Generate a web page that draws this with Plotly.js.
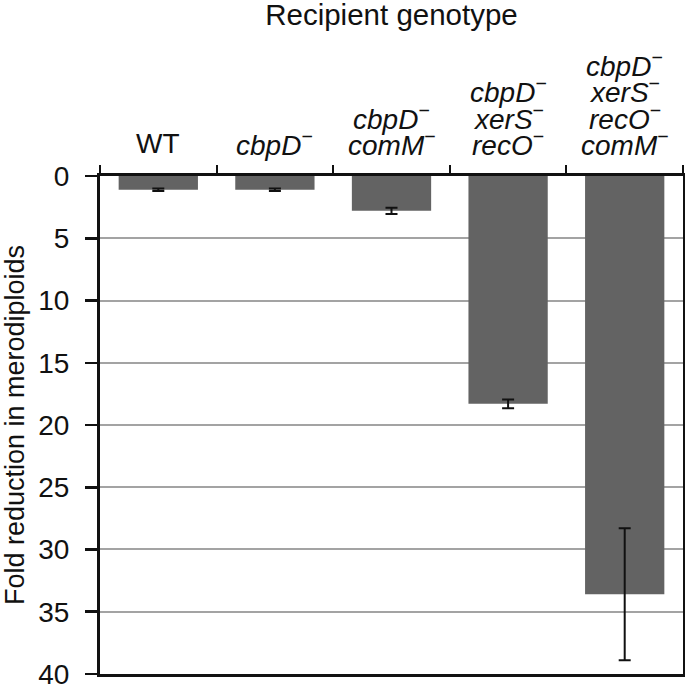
<!DOCTYPE html>
<html><head><meta charset="utf-8">
<script src="https://cdn.plot.ly/plotly-3.0.1.min.js"></script>
<style>body{margin:0;padding:0;background:#fff}#chart{width:685px;height:684px}</style>
</head><body><div id="chart"></div>
<script>
var categories = ["WT", "cbpD", "cbpD comM", "cbpD xerS recO", "cbpD xerS recO comM"];
// label lines for each category, top to bottom
var labelLines = [
  ["WT"],
  ["<i>cbpD</i><sup>−</sup>"],
  ["<i>cbpD</i><sup>−</sup>", "<i>comM</i><sup>−</sup>"],
  ["<i>cbpD</i><sup>−</sup>", "<i>xerS</i><sup>−</sup>", "<i>recO</i><sup>−</sup>"],
  ["<i>cbpD</i><sup>−</sup>", "<i>xerS</i><sup>−</sup>", "<i>recO</i><sup>−</sup>", "<i>comM</i><sup>−</sup>"]
];
var foldReduction = [1.1, 1.1, 2.8, 18.3, 33.6];
var errors = [0.1, 0.1, 0.25, 0.35, 5.3];
var yTicks = [0, 5, 10, 15, 20, 25, 30, 35, 40];

var font = "Liberation Sans, Arial, Helvetica, sans-serif";
var FS = 28;
var trace = {
  type: "bar", x: categories, y: foldReduction, base: 0,
  marker: {color: "#636363"}, width: 0.68,
  error_y: {type: "data", array: errors, visible: true, color: "#111", thickness: 2, width: 6},
  hoverinfo: "none"
};

var annotations = [];
for (var c = 0; c < categories.length; c++) {
  var lines = labelLines[c];
  for (var i = 0; i < lines.length; i++) {
    var fromBottom = lines.length - 1 - i;
    annotations.push({
      xref: "x", yref: "paper", x: categories[c], y: 1,
      text: lines[i], showarrow: false, xanchor: "center", yanchor: "middle",
      yshift: 33 + fromBottom * 26.5,
      font: {family: font, size: FS, color: "#111"}
    });
  }
}

var layout = {
  width: 685, height: 684,
  margin: {l: 100, r: 2, t: 176, b: 10},
  paper_bgcolor: "#fff", plot_bgcolor: "#fff",
  showlegend: false,
  font: {family: font, color: "#111", size: FS},
  title: {text: "Recipient genotype", font: {family: font, size: 29.5, color: "#111"},
          xref: "paper", x: 0.5, xanchor: "center", yref: "container", y: 0.978, yanchor: "middle"},
  annotations: annotations,
  xaxis: {
    side: "top", type: "category", tickmode: "array", tickvals: categories, showticklabels: false,
    tickson: "boundaries", ticks: "outside", ticklen: 8, tickwidth: 2, tickcolor: "#111",
    showline: true, linecolor: "#111", linewidth: 3, mirror: true,
    showgrid: false, fixedrange: true
  },
  yaxis: {
    range: [40.001, -0.001], tickmode: "array", tickvals: yTicks,
    ticks: "outside", ticklen: 12, tickwidth: 2.5, tickcolor: "#111", ticklabelstandoff: 10,
    ticklabeloverflow: "allow",
    showline: true, linecolor: "#111", linewidth: 3, mirror: true,
    showgrid: true, gridcolor: "#a3a3a3", gridwidth: 2, zeroline: false,
    tickfont: {size: FS, family: font, color: "#111"},
    title: {text: "Fold reduction in merodiploids", font: {size: 27, family: font, color: "#111"}, standoff: 8},
    fixedrange: true
  }
};
Plotly.newPlot("chart", [trace], layout, {displayModeBar: false, staticPlot: true});
</script></body></html>
